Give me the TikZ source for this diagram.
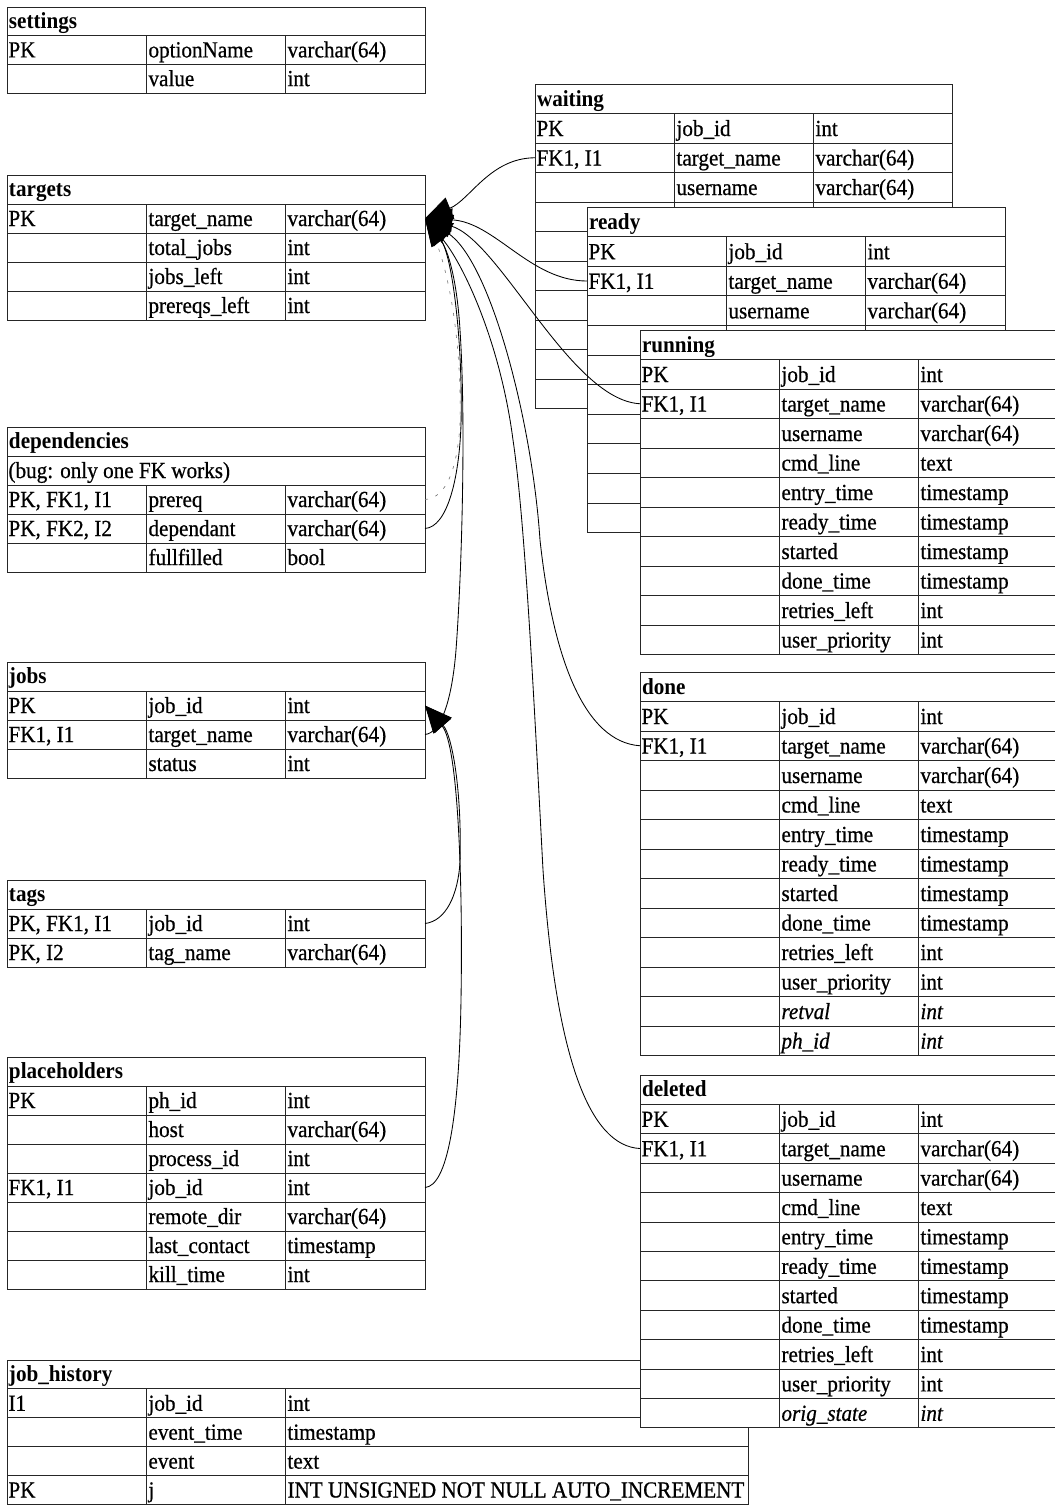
\documentclass[tikz,border=0pt]{standalone}
\usepackage{fontspec}
\setmainfont{Liberation Serif}[FakeStretch=0.92,
  UprightFeatures={FakeBold=0.6}, ItalicFeatures={FakeBold=0.6}]
\usetikzlibrary{arrows.meta,calc}

\colorlet{gridcol}{black!85}
\newcommand\cellfont{\fontsize{23}{27}\selectfont}

\tikzset{
  cellbox/.style={draw=gridcol, fill=white, line width=0.9pt, anchor=north west,
                  inner sep=0pt, outer sep=0pt},
  grid/.style={draw=gridcol, line width=0.9pt},
  celltext/.style={anchor=base west, inner sep=0pt, outer sep=0pt, font=\cellfont},
  fk/.style={draw=black, line width=0.85pt},
  tip/.style={-{Triangle[length=27pt,width=23pt]}},
  faint/.style={draw=black!55, line width=0.6pt, dash pattern=on 3pt off 8pt},
}

% title row of a table: name, x, y, width, row height, title
\newcommand\dbtitle[6]{%
  \node[cellbox, minimum width=#4pt, minimum height=#5pt] (#1-0) at (#2,#3) {};
  \node[celltext, font=\cellfont\bfseries] at (#2+2,#3+#5-7.5) {#6};
}
% three-column rows: name, x, y, width, row height, first index, rows
\newcommand\dbrows[7]{%
  \foreach \colA/\colB/\colC [count=\k from #6] in {#7} {
    \pgfmathsetmacro\ry{#3+\k*#5}
    \node[cellbox, minimum width=#4pt, minimum height=#5pt] (#1-\k) at (#2,\ry) {};
    \draw[grid] (#2+139,\ry) -- ++(0,#5);
    \draw[grid] (#2+278,\ry) -- ++(0,#5);
    \node[celltext] at (#2+1.5,\ry+#5-7) {\colA};
    \node[celltext] at (#2+141.5,\ry+#5-7) {\colB};
    \node[celltext] at (#2+280.5,\ry+#5-7) {\colC};
  }
}

\begin{document}
\begin{tikzpicture}[x=1pt,y=-1pt]
\useasboundingbox (0,0) rectangle (1055,1505);
\clip (0,0) rectangle (1055,1505);
\fill[white] (0,0) rectangle (1055,1505);

% ---- left column of tables ----
\dbtitle{settings}{7}{7}{418}{28.7}{settings}
\dbrows{settings}{7}{7}{418}{28.7}{1}{PK/optionName/varchar(64), {}/value/int}

\dbtitle{targets}{7}{175}{418}{29}{targets}
\dbrows{targets}{7}{175}{418}{29}{1}{PK/target\_name/varchar(64), {}/total\_jobs/int,
  {}/jobs\_left/int, {}/prereqs\_left/int}

\dbtitle{dependencies}{7}{427}{418}{29}{dependencies}
\node[cellbox, minimum width=418pt, minimum height=29pt] (dependencies-1) at (7,456) {};
\node[celltext] at (8.5,478) {(bug: only one FK works)};
\dbrows{dependencies}{7}{427}{418}{29}{2}{{PK, FK1, I1}/prereq/varchar(64),
  {PK, FK2, I2}/dependant/varchar(64), {}/fullfilled/bool}

\dbtitle{jobs}{7}{662}{418}{29}{jobs}
\dbrows{jobs}{7}{662}{418}{29}{1}{PK/job\_id/int, {FK1, I1}/target\_name/varchar(64),
  {}/status/int}

\dbtitle{tags}{7}{880}{418}{29}{tags}
\dbrows{tags}{7}{880}{418}{29}{1}{{PK, FK1, I1}/job\_id/int, {PK, I2}/tag\_name/varchar(64)}

\dbtitle{placeholders}{7}{1057}{418}{29}{placeholders}
\dbrows{placeholders}{7}{1057}{418}{29}{1}{PK/ph\_id/int, {}/host/varchar(64),
  {}/process\_id/int, {FK1, I1}/job\_id/int, {}/remote\_dir/varchar(64),
  {}/last\_contact/timestamp, {}/kill\_time/int}

\dbtitle{history}{7}{1360}{741}{28.9}{job\_history}
\dbrows{history}{7}{1360}{741}{28.9}{1}{I1/job\_id/int, {}/event\_time/timestamp,
  {}/event/text, PK/j/INT UNSIGNED NOT NULL AUTO\_INCREMENT}

% ---- stacked job-state tables ----
\dbtitle{waiting}{535}{84}{417}{29.5}{waiting}
\dbrows{waiting}{535}{84}{417}{29.5}{1}{PK/job\_id/int, {FK1, I1}/target\_name/varchar(64),
  {}/username/varchar(64), {}/{}/{}, {}/{}/{}, {}/{}/{}, {}/{}/{}, {}/{}/{}, {}/{}/{}, {}/{}/{}}

\dbtitle{ready}{587}{207}{418}{29.6}{ready}
\dbrows{ready}{587}{207}{418}{29.6}{1}{PK/job\_id/int, {FK1, I1}/target\_name/varchar(64),
  {}/username/varchar(64), {}/{}/{}, {}/{}/{}, {}/{}/{}, {}/{}/{}, {}/{}/{}, {}/{}/{}, {}/{}/{}}

\dbtitle{running}{640}{330}{418}{29.5}{running}
\dbrows{running}{640}{330}{418}{29.5}{1}{PK/job\_id/int, {FK1, I1}/target\_name/varchar(64),
  {}/username/varchar(64), {}/cmd\_line/text, {}/entry\_time/timestamp,
  {}/ready\_time/timestamp, {}/started/timestamp, {}/done\_time/timestamp,
  {}/retries\_left/int, {}/user\_priority/int}

\dbtitle{done}{640}{672}{418}{29.5}{done}
\dbrows{done}{640}{672}{418}{29.5}{1}{PK/job\_id/int, {FK1, I1}/target\_name/varchar(64),
  {}/username/varchar(64), {}/cmd\_line/text, {}/entry\_time/timestamp,
  {}/ready\_time/timestamp, {}/started/timestamp, {}/done\_time/timestamp,
  {}/retries\_left/int, {}/user\_priority/int, {}/\textit{retval}/\textit{int},
  {}/\textit{ph\_id}/\textit{int}}

\dbtitle{deleted}{640}{1075}{418}{29.4}{deleted}
\dbrows{deleted}{640}{1075}{418}{29.4}{1}{PK/job\_id/int, {FK1, I1}/target\_name/varchar(64),
  {}/username/varchar(64), {}/cmd\_line/text, {}/entry\_time/timestamp,
  {}/ready\_time/timestamp, {}/started/timestamp, {}/done\_time/timestamp,
  {}/retries\_left/int, {}/user\_priority/int, {}/\textit{orig\_state}/\textit{int}}

% ---- foreign keys to targets ----
\draw[fk,tip] (waiting-2.west) .. controls (490,158) and (470,200) .. (targets-1.east);
\draw[fk,tip] (ready-2.west) .. controls (530,281) and (495,222) .. (targets-1.east);
\draw[fk,tip] (running-2.west) .. controls (570,400) and (500,240) .. (targets-1.east);
\draw[fk,tip] (done-2.west) .. controls (585,742) and (553,660) .. (540,540)
  .. controls (532,420) and (490,260) .. (targets-1.east);
\draw[fk,tip] (deleted-2.west) .. controls (590,1146) and (556,1060) .. (543,870)
  .. controls (534,700) and (525,520) .. (513,440)
  .. controls (500,340) and (462,262) .. (targets-1.east);
\draw[faint] (dependencies-2.east) .. controls (446,498) and (457,470) .. (460,425)
  .. controls (462,340) and (448,255) .. (targets-1.east);
\draw[fk,tip] (dependencies-3.east) .. controls (447,527) and (459,480) .. (461,425)
  .. controls (463,340) and (452,255) .. (targets-1.east);
\draw[fk,tip] (jobs-2.east) .. controls (441,733) and (452,700) .. (456,650)
  .. controls (462,570) and (466,420) .. (460,330)
  .. controls (457,280) and (448,250) .. (targets-1.east);

% ---- foreign keys to jobs ----
\draw[fk,tip] (tags-1.east) .. controls (446,921) and (458,895) .. (460,862)
  .. controls (462,790) and (452,735) .. (jobs-1.east);
\draw[fk,tip] (placeholders-4.east) .. controls (447,1186) and (459,1120) .. (461,1000)
  .. controls (463,880) and (458,745) .. (jobs-1.east);
\end{tikzpicture}
\end{document}
